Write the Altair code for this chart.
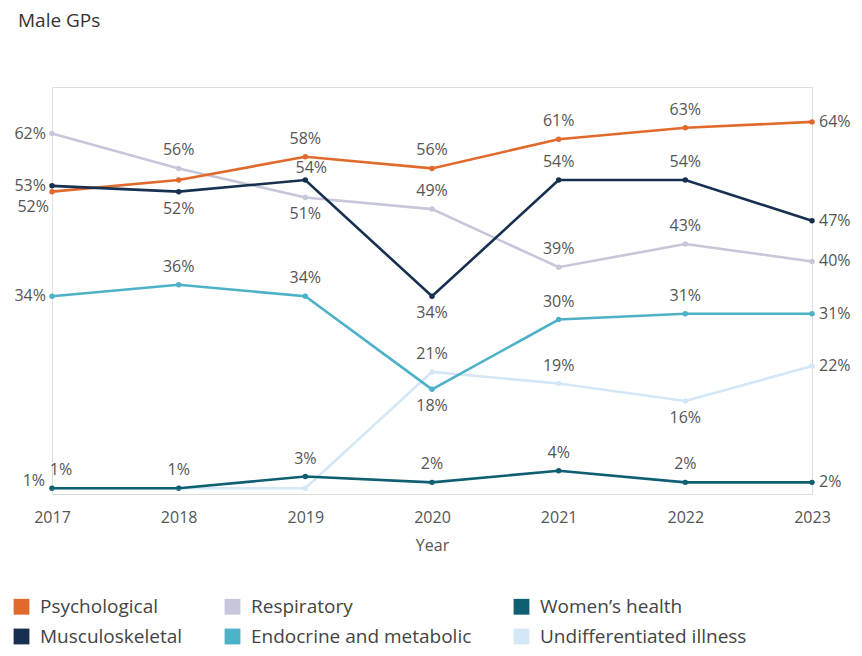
import altair as alt
import pandas as pd

years = [2017, 2018, 2019, 2020, 2021, 2022, 2023]

# legend is filled column by column (2 rows)
series = ["Psychological", "Musculoskeletal", "Respiratory",
          "Endocrine and metabolic", "Women\u2019s health", "Undifferentiated illness"]
colors = ["#E06A2C", "#17304F", "#C6C7DA", "#4DB1C7", "#0D5F71", "#D4E7F6"]

psychological = [52, 54, 58, 56, 61, 63, 64]
respiratory = [62, 56, 51, 49, 39, 43, 40]
womens_health = [1, 1, 3, 2, 4, 2, 2]
musculoskeletal = [53, 52, 54, 34, 54, 54, 47]
endocrine = [34, 36, 34, 18, 30, 31, 31]
undifferentiated = [1, 1, 1, 21, 19, 16, 22]

# label placement per point
pos_psych = ["belowleft", "none", "above", "above", "above", "above", "right"]
pos_resp = ["left", "above", "below", "above", "above", "above", "right"]
pos_women = ["aboveright", "above", "above", "above", "above", "above", "right"]
pos_musc = ["left", "below", "aboveclose", "below", "above", "above", "right"]
pos_endo = ["left", "above", "above", "below", "above", "above", "right"]
pos_undiff = ["upleft", "none", "none", "above", "above", "below", "right"]

draw_order = [
    ("Undifferentiated illness", undifferentiated, pos_undiff),
    ("Respiratory", respiratory, pos_resp),
    ("Endocrine and metabolic", endocrine, pos_endo),
    ("Psychological", psychological, pos_psych),
    ("Musculoskeletal", musculoskeletal, pos_musc),
    ("Women\u2019s health", womens_health, pos_women),
]

rows = []
for name, vals, poss in draw_order:
    for y, v, p in zip(years, vals, poss):
        rows.append({"Year": y, "Series": name, "Value": v, "Label": f"{v}%", "Pos": p})
df = pd.DataFrame(rows)

FONT = "Open Sans"
TXT = "#555555"

color = alt.Color(
    "Series:N",
    scale=alt.Scale(domain=series, range=colors),
    legend=alt.Legend(
        title=None, orient="none", legendX=-40, legendY=510, columns=3,
        symbolType="square", symbolSize=250, symbolStrokeWidth=0,
        labelFontSize=19, labelFont=FONT, labelColor="#444444",
        labelOffset=9, columnPadding=40, rowPadding=10, gridAlign="each",
        labelLimit=400,
    ),
)

x = alt.X("Year:Q", scale=alt.Scale(domain=[2017, 2023], nice=False),
          axis=alt.Axis(values=years, format="d", title="Year", domain=False, ticks=False,
                        grid=False, labelFontSize=16, labelColor=TXT, labelFont=FONT,
                        labelFlush=False, labelOverlap=False,
                        labelPadding=15, titleFontSize=16, titleFontWeight="normal",
                        titleColor=TXT, titleFont=FONT, titlePadding=12))
y = alt.Y("Value:Q", scale=alt.Scale(domain=[0, 70], nice=False), axis=None)

base = alt.Chart(df).encode(x=x, y=y)

points = base.mark_point(filled=True, size=30, opacity=1).encode(color=color)
lines = base.mark_line(strokeWidth=2.6).encode(
    color=alt.Color("Series:N", scale=alt.Scale(domain=series, range=colors), legend=None),
    detail="Series:N")

def lab(pos, **kw):
    return base.transform_filter(alt.datum.Pos == pos).mark_text(
        font=FONT, fontSize=16, color=TXT, **kw).encode(text="Label:N")

labels = [
    lab("above", align="center", baseline="middle", dy=-18),
    lab("aboveclose", align="center", baseline="middle", dx=6, dy=-12),
    lab("below", align="center", baseline="middle", dy=17),
    lab("left", align="right", baseline="middle", dx=-6),
    lab("upleft", align="right", baseline="middle", dx=-7, dy=-7),
    lab("right", align="left", baseline="middle", dx=7),
    lab("belowleft", align="right", baseline="middle", dx=-3, dy=15),
    lab("aboveright", align="center", baseline="middle", dx=9, dy=-18),
]

chart = alt.layer(points, lines, *labels).properties(
    width=760, height=407,
    title=alt.TitleParams("Male GPs", anchor="start", frame="group", dx=-34, offset=56,
                          fontSize=19, font=FONT, fontWeight="normal", color="#333333"),
    autosize=alt.AutoSizeParams(type="none"),
    padding={"left": 44, "top": 79, "right": 42, "bottom": 154},
).configure_view(stroke=None).configure(background="white")

chart.save("out.html", embed_options={"renderer": "svg", "actions": False})
